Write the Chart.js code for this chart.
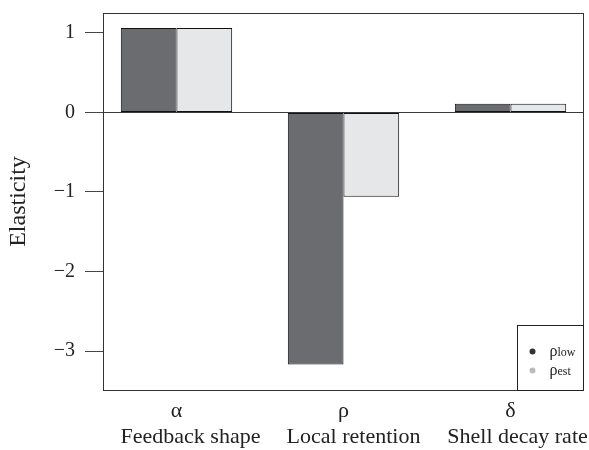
<!DOCTYPE html>
<html>
<head>
<meta charset="utf-8">
<script src="https://cdn.jsdelivr.net/npm/chart.js@4.4.0/dist/chart.umd.min.js"></script>
<style>
  html, body { margin: 0; padding: 0; background: #ffffff; }
  #wrap { width: 589px; height: 450px; }
</style>
</head>
<body>
<div id="wrap"><canvas id="c" width="589" height="450"></canvas></div>
<script>
// Parameters and their elasticities
const params = ['α', 'ρ', 'δ'];
const paramNames = ['Feedback shape', 'Local retention', 'Shell decay rate'];
const elasticityLow = [1.06, -3.17, 0.11];
const elasticityEst = [1.06, -1.06, 0.11];
const yTickValues = [1, 0, -1, -2, -3];
const seriesSubscripts = ['low', 'est'];

const SERIF = "'Liberation Serif', 'Times New Roman', serif";
const DARK = '#6b6c70';
const LIGHT = '#e6e7e9';
const EDGE = '#111111';

// Each group: two unit-wide bars, one unit gap before it (R barplot style)
const groupCenter = i => 2 + 3 * i;
const toPoints = arr => arr.map((v, i) => ({ x: groupCenter(i), y: v }));

// Descriptive names sit on a second line, nudged right of each symbol
const NAME_SHIFT = [14, 10, 7];
const NAME_BASELINE = 443;

const framePlugin = {
  id: 'frame',
  beforeDatasetsDraw(chart) {
    const { ctx, chartArea: a, scales } = chart;
    const y0 = Math.round(scales.y.getPixelForValue(0)) + 0.5;
    ctx.save();
    ctx.strokeStyle = '#3a3a3a';
    ctx.lineWidth = 1;
    ctx.beginPath();
    ctx.moveTo(a.left, y0);
    ctx.lineTo(a.right, y0);
    ctx.stroke();
    ctx.restore();
  },
  afterDraw(chart) {
    const { ctx, chartArea: a, scales } = chart;
    ctx.save();
    ctx.strokeStyle = '#333333';
    ctx.lineWidth = 1;
    ctx.strokeRect(Math.round(a.left) + 0.5, Math.round(a.top) + 0.5,
                   Math.round(a.right - a.left) - 1, Math.round(a.bottom - a.top));

    // parameter names under the symbols
    ctx.fillStyle = '#222222';
    ctx.font = '22px ' + SERIF;
    ctx.textAlign = 'center';
    ctx.textBaseline = 'alphabetic';
    paramNames.forEach((name, i) => {
      const x = scales.x.getPixelForValue(groupCenter(i)) + NAME_SHIFT[i];
      ctx.fillText(name, x, NAME_BASELINE);
    });

    // legend box in the lower-right corner
    const w = 67, h = 65;
    const lx = Math.round(a.right) - w + 0.5;
    const ly = Math.round(a.bottom) - h + 0.5;
    ctx.fillStyle = '#ffffff';
    ctx.fillRect(lx, ly, w, h);
    ctx.strokeStyle = '#222222';
    ctx.strokeRect(lx, ly, w - 1, h);

    const dotColors = ['#333333', '#bbbbbb'];
    chart.data.datasets.forEach((ds, i) => {
      const cy = ly + 26 + i * 19;
      ctx.fillStyle = dotColors[i];
      ctx.beginPath();
      ctx.arc(lx + 15, cy, 3, 0, Math.PI * 2);
      ctx.fill();
      ctx.fillStyle = '#222222';
      ctx.textBaseline = 'alphabetic';
      ctx.textAlign = 'left';
      ctx.font = '16px ' + SERIF;
      ctx.fillText('ρ', lx + 32, cy + 4);
      const rw = ctx.measureText('ρ').width;
      ctx.font = '12px ' + SERIF;
      ctx.fillText(seriesSubscripts[i], lx + 32 + rw, cy + 4);
    });
    ctx.restore();
  }
};

new Chart(document.getElementById('c'), {
  type: 'bar',
  data: {
    datasets: [
      {
        label: 'ρlow',
        data: toPoints(elasticityLow),
        backgroundColor: DARK,
        borderColor: EDGE,
        borderWidth: 1,
        borderSkipped: false,
        categoryPercentage: 2 / 3,
        barPercentage: 1
      },
      {
        label: 'ρest',
        data: toPoints(elasticityEst),
        backgroundColor: LIGHT,
        borderColor: EDGE,
        borderWidth: 1,
        borderSkipped: false,
        categoryPercentage: 2 / 3,
        barPercentage: 1
      }
    ]
  },
  options: {
    responsive: false,
    animation: false,
    devicePixelRatio: 1,
    layout: { padding: { top: 13, right: 5, left: 0, bottom: 0 } },
    plugins: {
      legend: { display: false },
      tooltip: { enabled: false }
    },
    scales: {
      x: {
        type: 'linear',
        offset: false,
        min: 0.68,
        max: 9.32,
        afterBuildTicks(scale) {
          scale.ticks = params.map((_, i) => ({ value: groupCenter(i) }));
        },
        afterFit(scale) {
          scale.height = 60;
          scale.paddingLeft = 0;
          scale.paddingRight = 0;
        },
        grid: { display: false, drawTicks: false },
        border: { display: false },
        ticks: {
          autoSkip: false,
          maxRotation: 0,
          padding: 8,
          color: '#222222',
          font: { family: SERIF, size: 22, lineHeight: 1.2 },
          callback: (v, i) => params[i]
        }
      },
      y: {
        min: -3.49,
        max: 1.25,
        afterBuildTicks(scale) {
          scale.ticks = yTickValues.map(v => ({ value: v }));
        },
        afterFit(scale) {
          scale.width = 103;
          scale.paddingTop = 0;
          scale.paddingBottom = 0;
        },
        grid: {
          drawOnChartArea: false,
          drawTicks: true,
          tickLength: 18,
          color: '#444444'
        },
        border: { display: false },
        ticks: {
          padding: 10,
          color: '#222222',
          font: { family: SERIF, size: 20 },
          callback: v => (v < 0 ? '\u2212' + Math.abs(v) : String(v))
        },
        title: {
          display: true,
          text: 'Elasticity',
          color: '#222222',
          font: { family: SERIF, size: 24 },
          padding: { top: 4, bottom: 0 }
        }
      }
    }
  },
  plugins: [framePlugin]
});
</script>
</body>
</html>
